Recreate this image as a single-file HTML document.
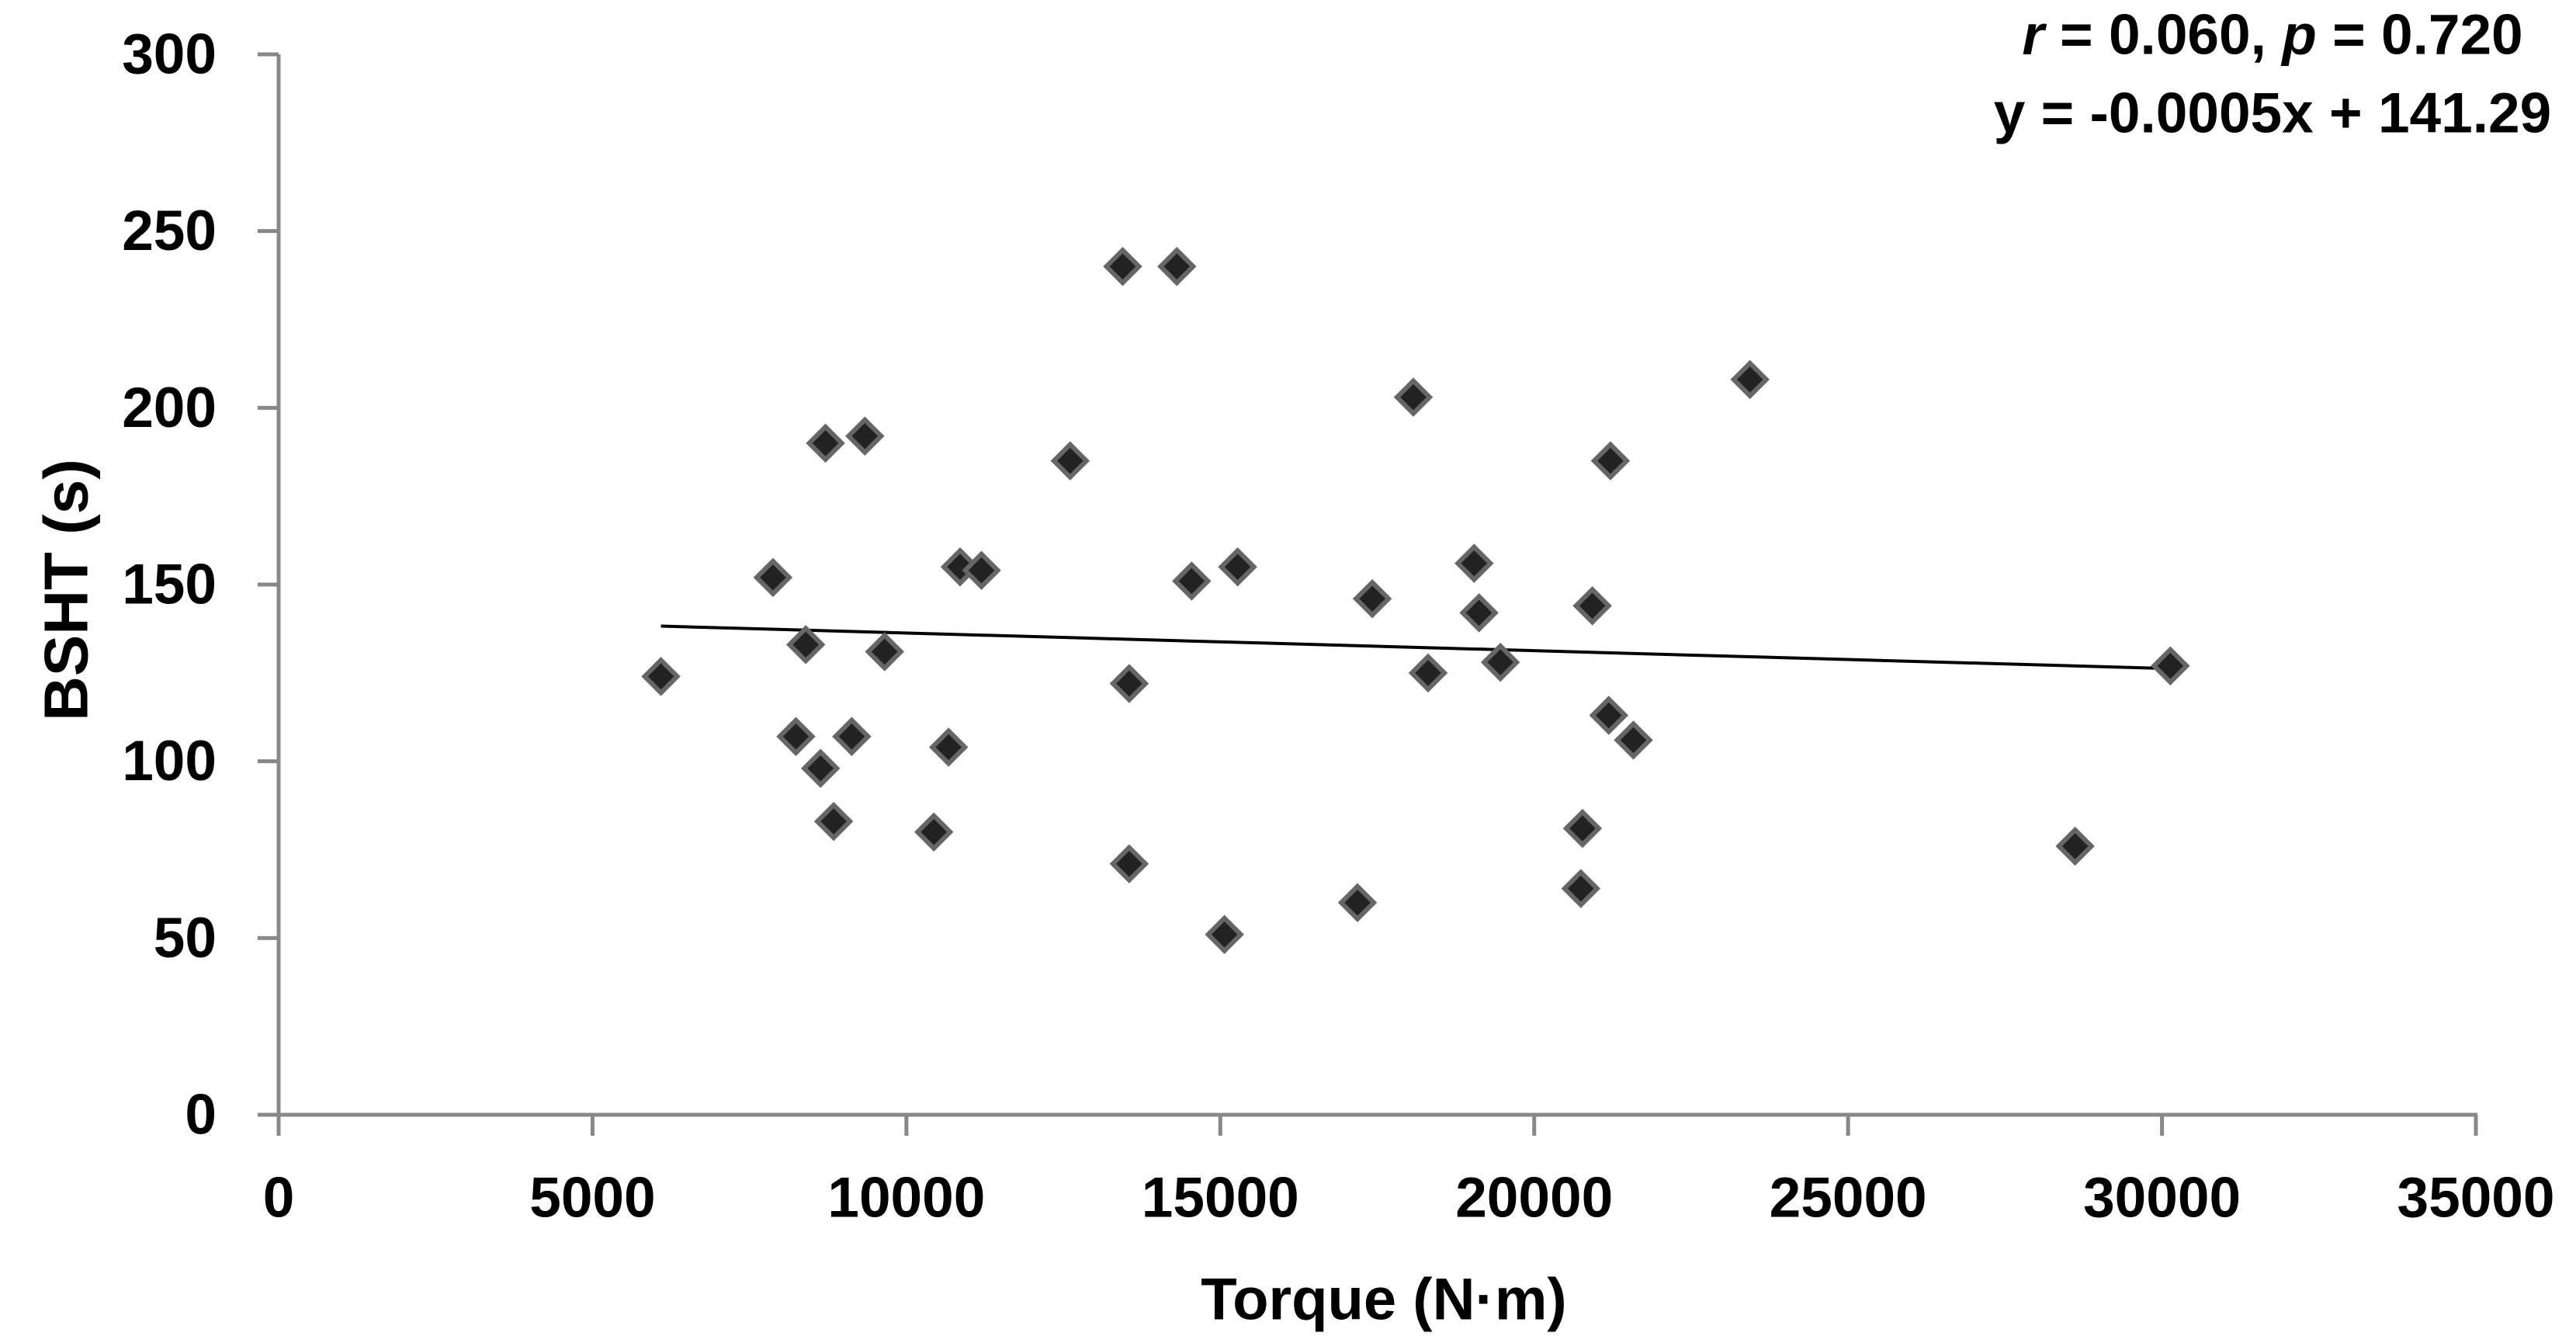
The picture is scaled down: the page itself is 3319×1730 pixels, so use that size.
<!DOCTYPE html>
<html><head><meta charset="utf-8"><style>
html,body{margin:0;padding:0;background:#fff;}
svg{display:block;font-family:"Liberation Sans",sans-serif;font-weight:bold;}
</style></head><body>
<svg id="chart" width="3319" height="1730" viewBox="0 0 3319 1730">
<g id="axes"></g>
<g id="trend"></g>
<g id="points"></g>
<text x="1783" y="1674" font-size="76" text-anchor="middle" dominant-baseline="central">Torque (N·m)</text>
<text x="85" y="760" font-size="80" text-anchor="middle" dominant-baseline="central" transform="rotate(-90 85 760)">BSHT (s)</text>
<text x="2928" y="45" font-size="73" text-anchor="middle" dominant-baseline="central"><tspan font-style="italic">r</tspan> = 0.060, <tspan font-style="italic">p</tspan> = 0.720</text>
<text x="2928" y="146" font-size="73" text-anchor="middle" dominant-baseline="central">y = -0.0005x + 141.29</text>
</svg>
<script>
const xTicks = [0,5000,10000,15000,20000,25000,30000,35000];
const yTicks = [0,50,100,150,200,250,300];
const torque = [6090,7874,8240,8397,8632,8711,8841,9129,9338,9652,10437,10672,10855,11195,12608,13445,13549,13549,14308,14543,15066,15276,17185,17421,18075,18310,19043,19121,19461,20743,20769,20926,21188,21214,21580,23437,28616,30133];
const bsht = [124,152,107,133,98,190,83,107,192,131,80,104,155,154,185,240,71,122,240,151,51,155,60,146,203,125,156,142,128,64,81,144,113,185,106,208,76,127];
const trendSlope = -0.0005;
const trendIntercept = 141.29;

const NS = "http://www.w3.org/2000/svg";
const X0 = 359, XS = (3190-359)/35000, Y0 = 1436, YS = (1436-70)/300;
function sx(v){return X0 + v*XS;}
function sy(v){return Y0 - v*YS;}
function mk(tag, attrs, parent){const e=document.createElementNS(NS,tag);for(const k in attrs)e.setAttribute(k,attrs[k]);parent.appendChild(e);return e;}

const axes = document.getElementById('axes');
let e = mk('line',{x1:X0,y1:sy(300),x2:X0,y2:Y0+27,stroke:'#888','stroke-width':5},axes);


e = mk('line',{x1:X0-27,y1:Y0,x2:sx(35000)+2,y2:Y0,stroke:'#888','stroke-width':5},axes);


yTicks.forEach(v=>{
  const t = mk('line',{x1:X0-27,y1:sy(v),x2:X0,y2:sy(v),stroke:'#888','stroke-width':5},axes);
  
  
  const l = mk('text',{x:279,y:sy(v),'font-size':73,'text-anchor':'end','dominant-baseline':'central'},axes);
  l.textContent = v;
  
  
});
xTicks.forEach(v=>{
  const t = mk('line',{x1:sx(v),y1:Y0,x2:sx(v),y2:Y0+27,stroke:'#888','stroke-width':5},axes);
  
  
  const l = mk('text',{x:sx(v),y:1543,'font-size':73,'text-anchor':'middle','dominant-baseline':'central'},axes);
  l.textContent = v;
  
  
});

const trend = document.getElementById('trend');
const xmin = Math.min(...torque), xmax = Math.max(...torque);
const tl = mk('line',{x1:sx(xmin),y1:sy(trendSlope*xmin+trendIntercept),x2:sx(xmax),y2:sy(trendSlope*xmax+trendIntercept),stroke:'#000','stroke-width':4},trend);



const pts = document.getElementById('points');
const r = 21;
torque.forEach((xv,i)=>{
  const cx = sx(xv), cy = sy(bsht[i]);
  const p = mk('polygon',{points:`${cx},${cy-r} ${cx+r},${cy} ${cx},${cy+r} ${cx-r},${cy}`,fill:'#222',stroke:'#666','stroke-width':6},pts);
  
  
});
</script>
</body></html>
